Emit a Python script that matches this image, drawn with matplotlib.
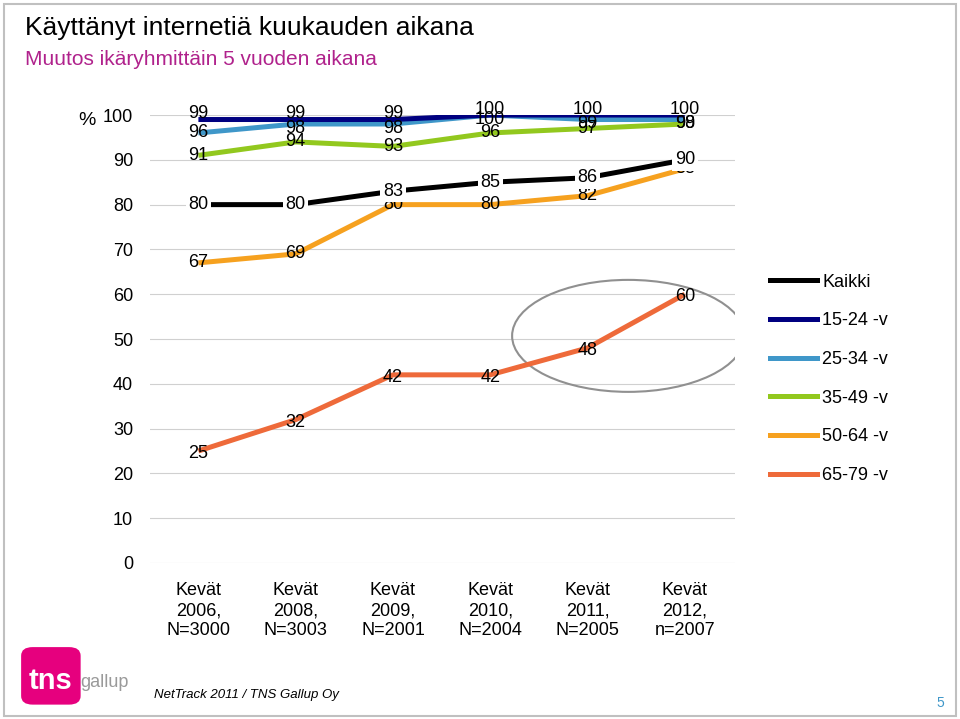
import matplotlib
matplotlib.use("Agg")
import matplotlib.pyplot as plt
from matplotlib.patches import Ellipse, FancyBboxPatch, Rectangle
from matplotlib.lines import Line2D

categories = ["Kevät\n2006,\nN=3000", "Kevät\n2008,\nN=3003", "Kevät\n2009,\nN=2001",
              "Kevät\n2010,\nN=2004", "Kevät\n2011,\nN=2005", "Kevät\n2012,\nn=2007"]
series_names = ["Kaikki", "15-24 -v", "25-34 -v", "35-49 -v", "50-64 -v", "65-79 -v"]
kaikki = [80, 80, 83, 85, 86, 90]
v15_24 = [99, 99, 99, 100, 100, 100]
v25_34 = [96, 98, 98, 100, 99, 99]
v35_49 = [91, 94, 93, 96, 97, 98]
v50_64 = [67, 69, 80, 80, 82, 88]
v65_79 = [25, 32, 42, 42, 48, 60]
yticks = [0, 10, 20, 30, 40, 50, 60, 70, 80, 90, 100]

colors = ["#000000", "#000080", "#3F97C9", "#92C81E", "#F6A11F", "#EE6A3A"]
data = [kaikki, v15_24, v25_34, v35_49, v50_64, v65_79]
label_dy = [0, 1.3, -1.0, 0, 0, -0.6]

plt.rcParams["font.family"] = "Liberation Sans"
fig = plt.figure(figsize=(9.6, 7.19), dpi=100)
ax = fig.add_axes([0.156, 0.217, 0.61, 0.623])
x = list(range(len(categories)))
zorders = [6, 5, 4, 3, 2, 2]
for vals, c, z in zip(data, colors, zorders):
    ax.plot(x, vals, color=c, lw=3.6, zorder=z, solid_capstyle="butt")
for i, vals in enumerate(data):
    for j, (xi, v) in enumerate(zip(x, vals)):
        dy = label_dy[i]
        if i == 2 and j == 0:
            dy = 0
        if i == 0:
            ax.text(xi, v, str(v), ha="center", va="center", fontsize=13, zorder=10,
                    bbox=dict(boxstyle="square,pad=0.15", fc="white", ec="none"))
        else:
            ax.text(xi, v + dy, str(v), ha="center", va="center", fontsize=13, zorder=9)

ax.set_xlim(-0.5, 5.52)
ax.set_ylim(0, 100)
ax.set_yticks(yticks)
ax.set_yticklabels([str(t) for t in yticks], fontsize=13)
ax.set_xticks(x)
ax.set_xticklabels(categories, fontsize=13, linespacing=1.2)
ax.tick_params(length=0, pad=12)
ax.tick_params(axis="x", pad=14)
for s in ax.spines.values():
    s.set_visible(False)
ax.grid(axis="y", color="#D0D0D0", lw=0.8, zorder=0)
ax.set_axisbelow(True)

ax.add_patch(Ellipse((4.42, 50.7), 2.39, 25, fill=False, ec="#909090", lw=1.5, zorder=1))

handles = [Line2D([0], [0], color=c, lw=3.6) for c in colors]
fig.legend(handles, series_names, loc="upper left", bbox_to_anchor=(0.785, 0.642),
           frameon=False, fontsize=13, handlelength=2.6, handletextpad=0.3,
           labelspacing=1.2)

fig.text(0.026, 0.961, "Käyttänyt internetiä kuukauden aikana", fontsize=19, va="center")
fig.text(0.026, 0.917, "Muutos ikäryhmittäin 5 vuoden aikana", fontsize=15, color="#B0228C", va="center")
fig.text(0.081, 0.832, "%", fontsize=14, va="center")

# footer
fig.patches.append(FancyBboxPatch((0.022, 0.02), 0.062, 0.08, boxstyle="round,pad=0,rounding_size=0.012",
                                  fc="#E6007E", ec="none", transform=fig.transFigure))
fig.text(0.03, 0.053, "tns", fontsize=21, color="white", fontweight="bold", va="center")
fig.text(0.084, 0.051, "gallup", fontsize=13, color="#9A9A9A", va="center")
fig.text(0.16, 0.034, "NetTrack 2011 / TNS Gallup Oy", fontsize=9.5, style="italic", va="center")
fig.text(0.98, 0.022, "5", fontsize=10, color="#3F97C9", ha="center", va="center")
fig.patches.append(Rectangle((0.004, 0.004), 0.992, 0.99, fill=False, ec="#C0C0C0", lw=1.5,
                             transform=fig.transFigure))
fig.savefig("out.png", dpi=100)
